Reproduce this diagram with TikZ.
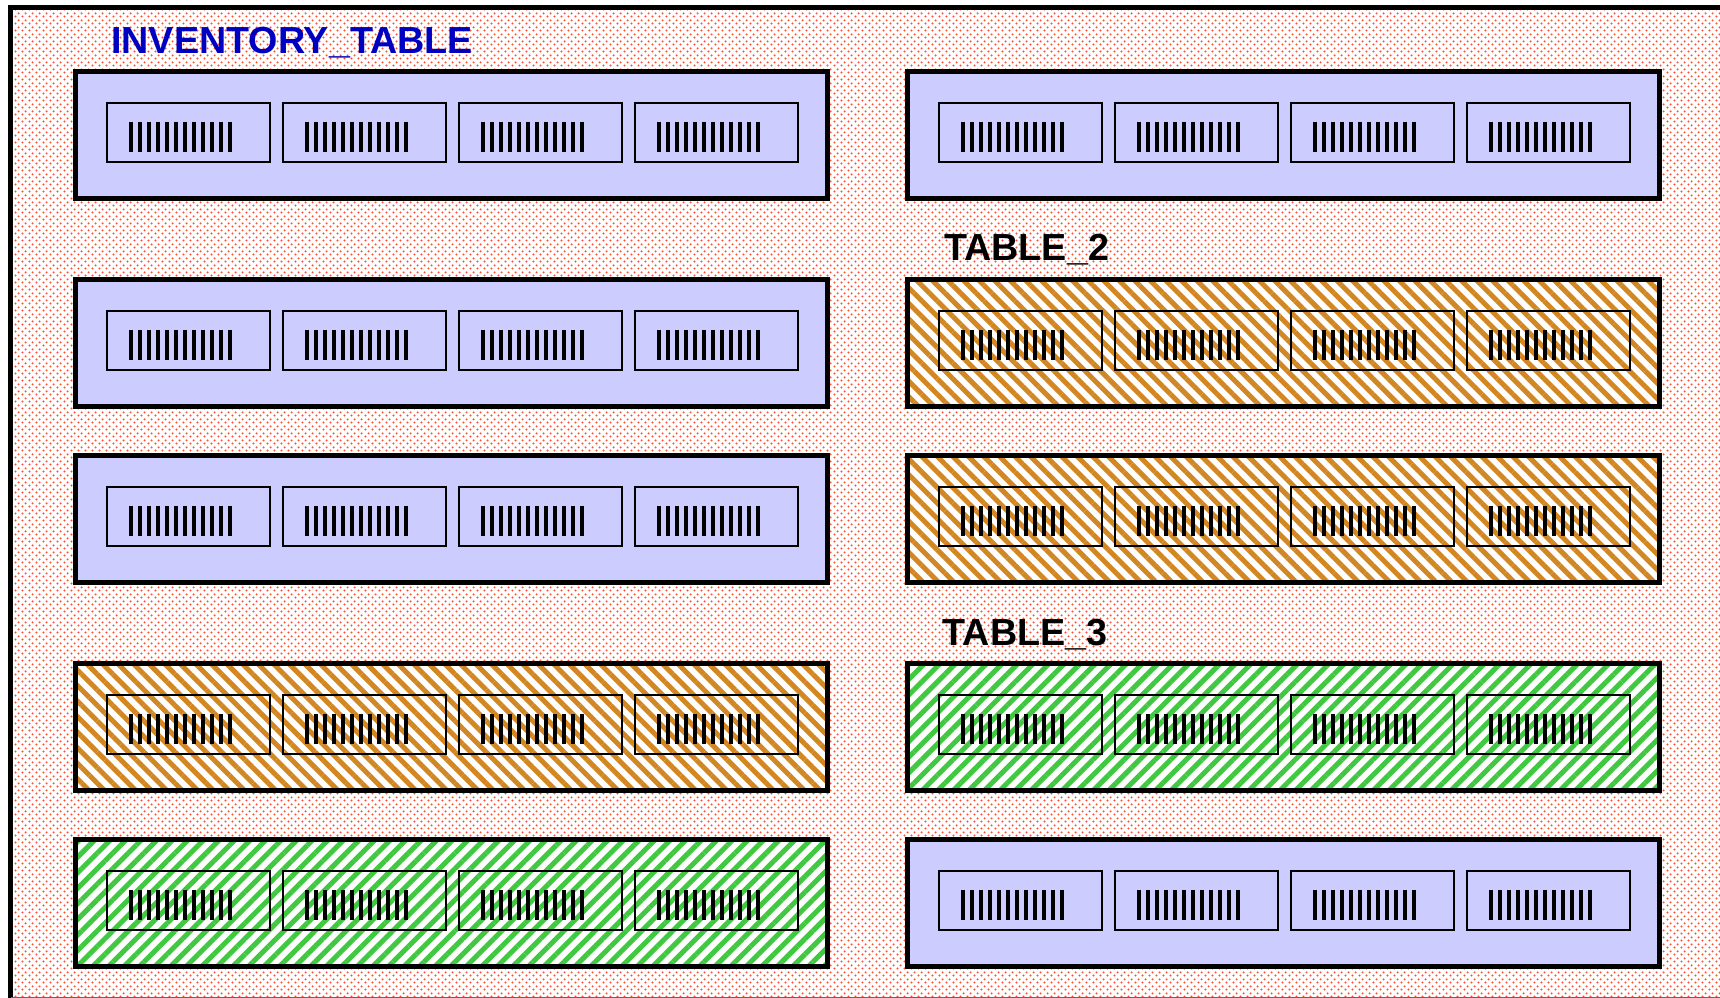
\documentclass[tikz,border=0pt]{standalone}
\usepackage{fontspec}
\setmainfont{Liberation Sans}
\usetikzlibrary{patterns,patterns.meta}

\definecolor{dotred}{RGB}{255,80,50}
\definecolor{boxblue}{RGB}{204,204,255}
\definecolor{hatchorange}{RGB}{210,135,35}
\definecolor{hatchgreen}{RGB}{64,200,64}
\definecolor{labelblue}{RGB}{0,0,192}

% staggered dot screen for the frame background
\pgfdeclarepatternformonly{reddots}{\pgfqpoint{0pt}{0pt}}{\pgfqpoint{7pt}{7pt}}{\pgfqpoint{7pt}{7pt}}{%
  \pgfpathcircle{\pgfqpoint{1.75pt}{1.75pt}}{1.3pt}%
  \pgfpathcircle{\pgfqpoint{5.25pt}{5.25pt}}{1.3pt}%
  \pgfusepath{fill}}

\tikzset{
  plainfill/.style={fill=boxblue},
  orangefill/.style={preaction={fill=white},
    pattern={Lines[angle=-45,distance=11pt,line width=5pt]}, pattern color=hatchorange},
  greenfill/.style={preaction={fill=white},
    pattern={Lines[angle=45,distance=11pt,line width=5pt]}, pattern color=hatchgreen},
  cellbox/.style={draw=black, line width=2pt},
  shelfborder/.style={draw=black, line width=5pt},
  lbl/.style={inner sep=0pt, anchor=base west, font=\fontsize{37.7}{40}\selectfont\bfseries},
}

% one shelf: #1 left x, #2 top y, #3 fill style
\newcommand\drawshelf[3]{%
  \path[#3] (#1,#2) rectangle ++(752,127);
  \foreach \i in {0,...,3}{%
    \draw[cellbox] ({#1+31.5+176*\i},{#2+32}) rectangle ++(163.5,59);
    \foreach \j in {0,...,11}
      \fill[black] ({#1+31.5+176*\i+22.6+9*\j},{#2+50.5}) rectangle ++(4,30);
  }%
  \draw[shelfborder] (#1,#2) rectangle ++(752,127);
}

\begin{document}
\begin{tikzpicture}[x=1pt,y=-1pt]
\useasboundingbox (0,0) rectangle (1720,997);
\fill[white] (0,0) rectangle (1720,997);

% frame with dotted background
\fill[pattern=reddots, pattern color=dotred] (10.5,7.5) rectangle (1730,1005);
\draw[line width=5pt] (10.5,999) -- (10.5,7.5) -- (1730,7.5);
\draw[line width=5pt, black!60] (10.5,999.5) -- (1730,999.5);

% left column
\drawshelf{75}{71}{plainfill}
\drawshelf{75}{279}{plainfill}
\drawshelf{75}{455}{plainfill}
\drawshelf{75}{663}{orangefill}
\drawshelf{75}{839}{greenfill}

% right column
\drawshelf{907}{71}{plainfill}
\drawshelf{907}{279}{orangefill}
\drawshelf{907}{455}{orangefill}
\drawshelf{907}{663}{greenfill}
\drawshelf{907}{839}{plainfill}

% labels
\node[lbl, text=labelblue] (invlabel) at (111,53.3) {INVENTORY\_TABLE};
\node[lbl] (tablelabeltwo) at (944,260) {TABLE\_2};
\node[lbl] (tablelabelthree) at (942.5,645) {TABLE\_3};
\end{tikzpicture}
\end{document}
